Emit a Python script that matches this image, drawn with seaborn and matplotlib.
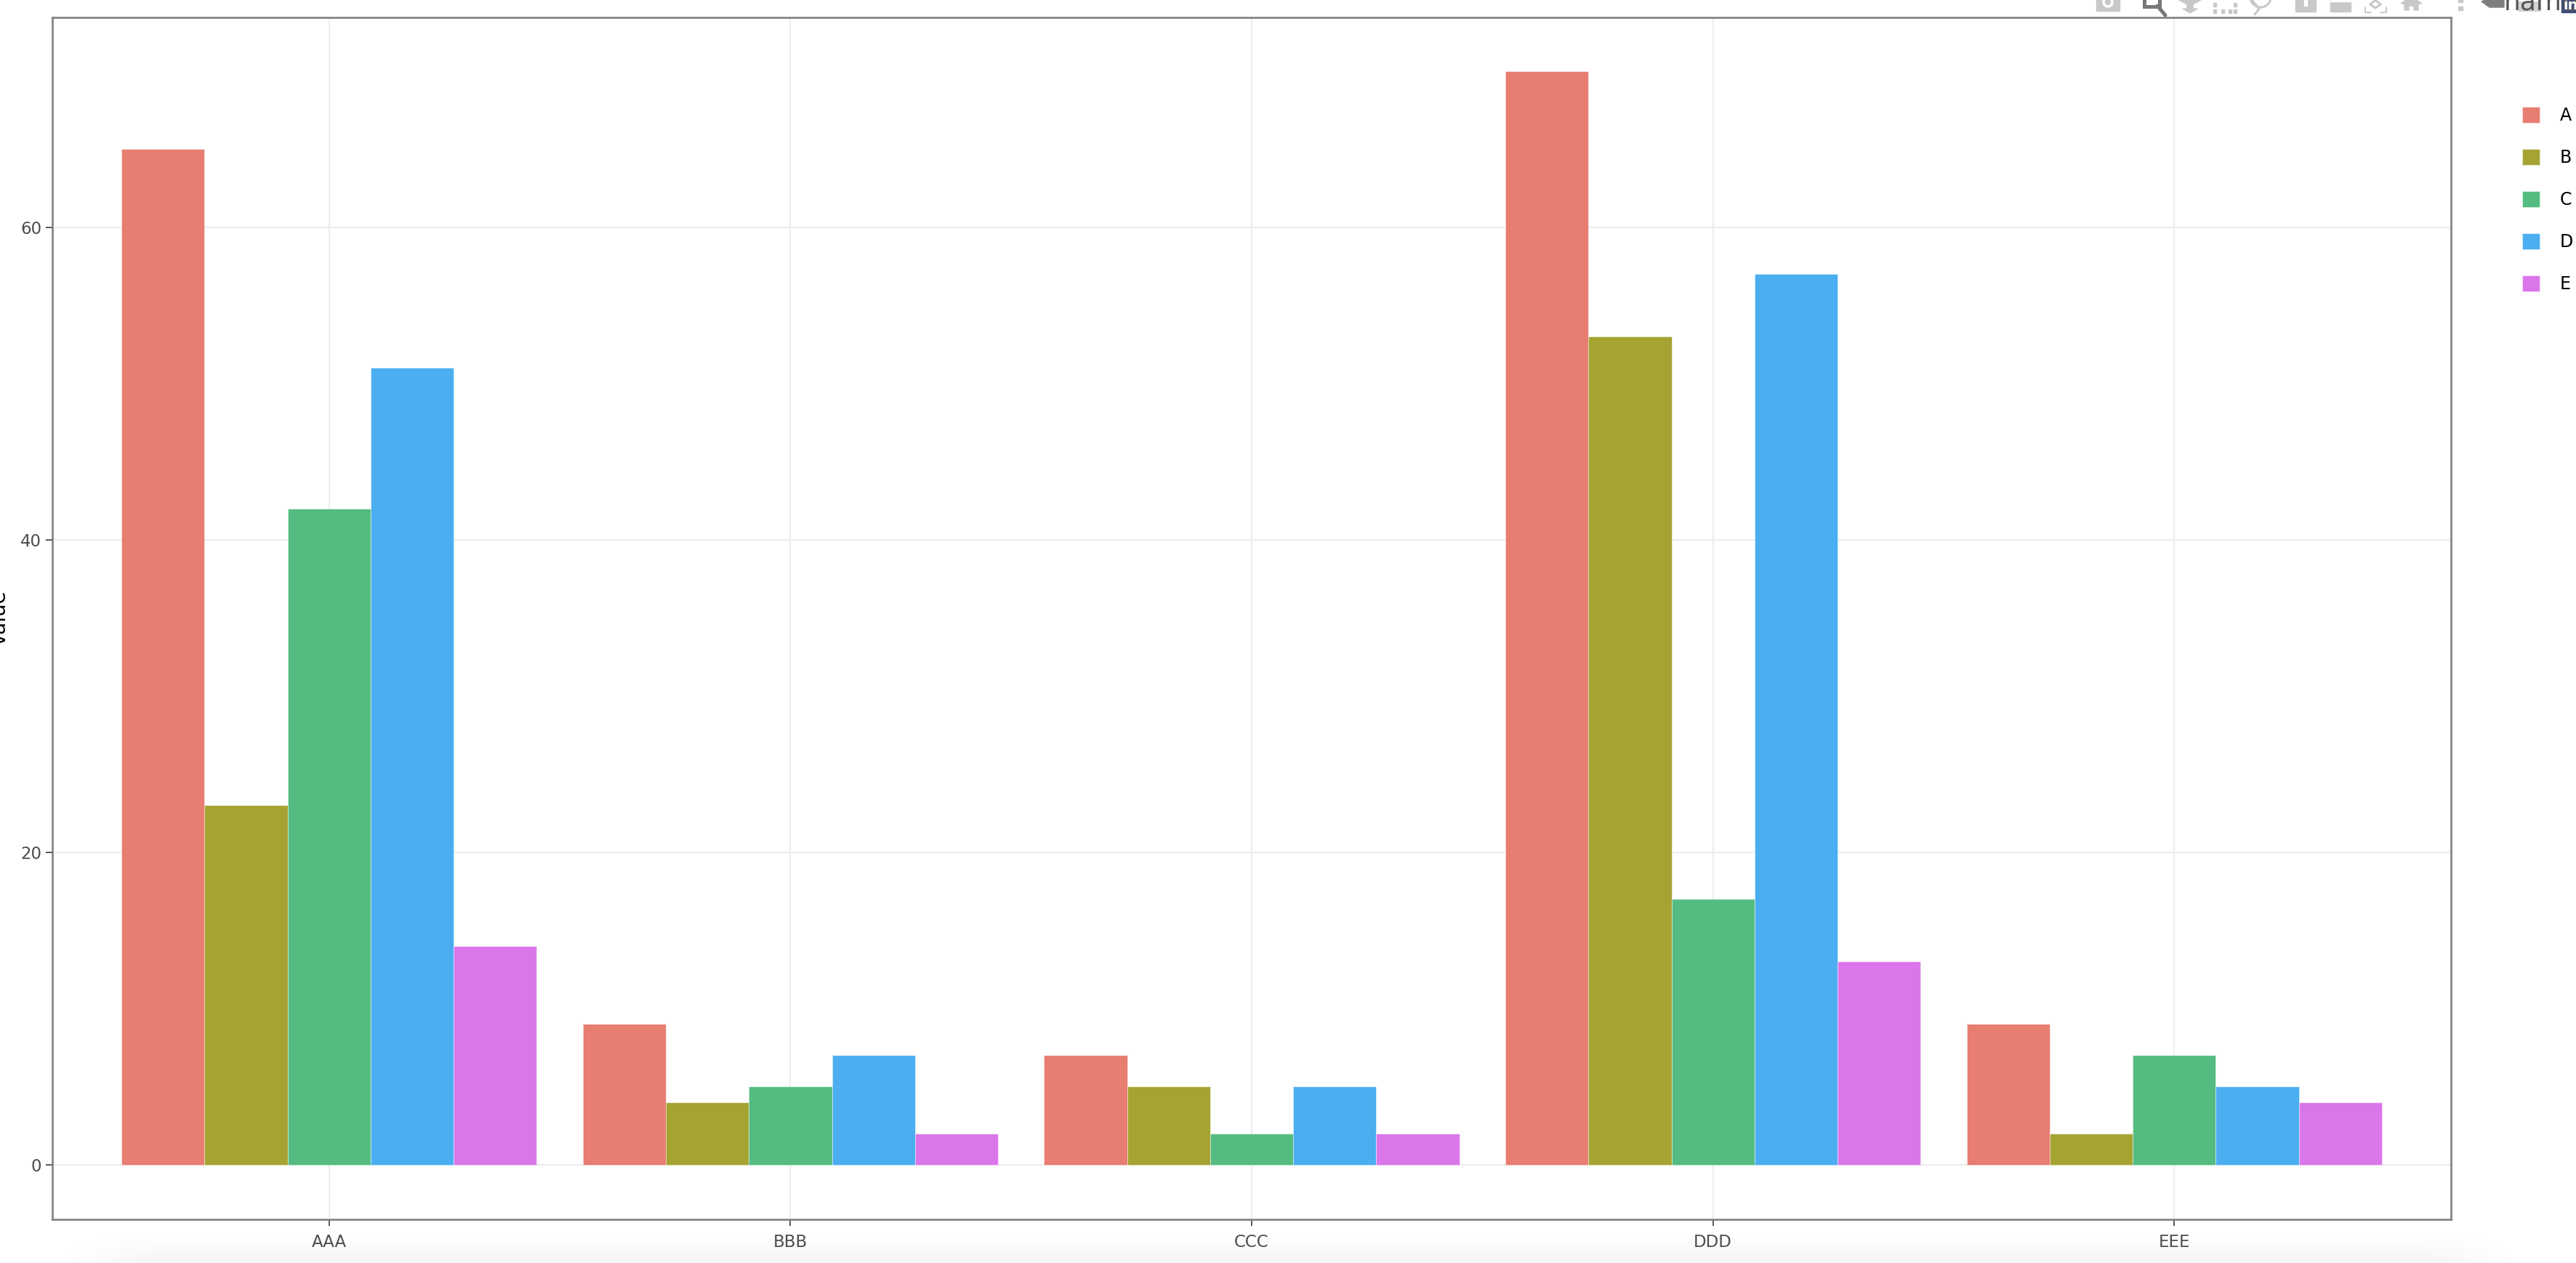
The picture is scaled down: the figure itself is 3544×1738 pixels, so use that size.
import numpy as np
import pandas as pd
import matplotlib
matplotlib.use("Agg")
import matplotlib.pyplot as plt
from matplotlib.patches import Rectangle, Circle, Polygon
from matplotlib.lines import Line2D
import seaborn as sns

categories = ["AAA", "BBB", "CCC", "DDD", "EEE"]
series_names = ["A", "B", "C", "D", "E"]
values_a = [65, 9, 7, 70, 9]
values_b = [23, 4, 5, 53, 2]
values_c = [42, 5, 2, 17, 7]
values_d = [51, 7, 5, 57, 5]
values_e = [14, 2, 2, 13, 4]
series_colors = ["#E87D72", "#A5A433", "#55BC81", "#4BAEF1", "#DA76EA"]
y_ticks = [0, 20, 40, 60]

W, H = 3544, 1738
DPI = 100
px = 72 / DPI  # points per output pixel

frame = pd.DataFrame({
    "group": categories * len(series_names),
    "name": [n for n in series_names for _ in categories],
    "value": values_a + values_b + values_c + values_d + values_e,
})

sns.set_theme(style="white")
plt.rcParams["font.family"] = ["DejaVu Sans"]

fig = plt.figure(figsize=(W / DPI, H / DPI), dpi=DPI, facecolor="white")

# Full-figure layer in pixel coordinates for the page chrome
page = fig.add_axes([0, 0, 1, 1], zorder=0)
page.set_xlim(0, W)
page.set_ylim(H, 0)
page.axis("off")

# Soft shadow along the lower edge of the page
def ramp(t):
    t = np.clip(t, 0, 1)
    return t * t * (3 - 2 * t)

xs = np.arange(W)
ys = np.arange(1680, H)
horizontal = ramp((xs - 60) / 170) * ramp((3490 - xs) / 170)
vertical = ramp((ys - 1685) / 75)
shade = np.zeros((len(ys), W, 4))
shade[..., 3] = np.outer(vertical, horizontal) * 0.055
page.imshow(shade, extent=(0, W, H, 1680), aspect="auto", interpolation="bilinear")
page.set_xlim(0, W)
page.set_ylim(H, 0)

# Plot toolbar, cut off by the top edge of the page
light = "#c8c8c8"
dark = "#777777"
page.add_patch(Rectangle((2884, -4), 32, 19, color=light))
page.add_patch(Circle((2900, 3), 7, color="white"))
page.add_patch(Circle((2900, 3), 3.5, color=light))
page.add_patch(Rectangle((2950, -4), 21, 13, fill=False, ec=dark, lw=5 * px))
page.add_line(Line2D([2968, 2979], [8, 21], color=dark, lw=5 * px))
page.add_patch(Polygon([[2998, 0], [3028, 0], [3017, 6], [3017, 12], [3023, 12], [3013, 18],
                        [3003, 12], [3009, 12], [3009, 6]], color=light))
for dot_x in [3045, 3056, 3066, 3073]:
    page.add_patch(Rectangle((dot_x, 13), 4, 5, color=light))
page.add_patch(Rectangle((3045, 4), 4, 5, color=light))
page.add_patch(Rectangle((3073, 4), 4, 5, color=light))
page.add_patch(Circle((3110, -4), 14, fill=False, ec=light, lw=3 * px))
page.add_line(Line2D([3098, 3108, 3102], [0, 12, 20], color=light, lw=3 * px))
page.add_patch(Rectangle((3158, -4), 28, 20, color=light))
page.add_patch(Rectangle((3170, 0), 4, 8, color="white"))
page.add_patch(Rectangle((3206, -4), 28, 20, color=light))
page.add_patch(Rectangle((3206, -1), 28, 3, color="white"))
page.add_line(Line2D([3254, 3254, 3262], [10, 17, 17], color=light, lw=2 * px))
page.add_line(Line2D([3275, 3283, 3283], [17, 17, 10], color=light, lw=2 * px))
page.add_patch(Polygon([[3261, 6], [3268, 0], [3275, 6], [3268, 11]], fill=False, ec=light, lw=3 * px))
page.add_patch(Polygon([[3303, 5], [3317, -5], [3332, 5], [3327, 5], [3327, 14], [3321, 14], [3321, 8],
                        [3314, 8], [3314, 14], [3308, 14], [3308, 5]], color=light))
page.add_patch(Rectangle((3382, 0), 6, 3, color=light))
page.add_patch(Rectangle((3382, 9), 6, 5, color=light))

# Hover tag over the page corner
page.add_patch(Polygon([[3425, -2], [3445, -2], [3445, 10], [3425, 10], [3414, 2]], color="#7f7f7f"))
page.add_patch(Rectangle((3465, 2), 30, 13, color="#d2d2d2"))
page.add_patch(Rectangle((3524, -2), 20, 19, color="#3f4f75"))
page.text(3445, 13, "name", fontsize=26 * px * 1.39, color="#555555", ha="left", va="baseline")
page.text(3526, 13, "in", fontsize=14, color="white", ha="left", va="baseline", fontweight="bold")
page.set_clip_on(True)

# Main plotting area
left, right, top, bottom = 72, 3372, 24, 1678
ax = fig.add_axes([left / W, 1 - bottom / H, (right - left) / W, (bottom - top) / H],
                  zorder=1, facecolor="white")

sns.barplot(
    data=frame, x="group", y="value", hue="name",
    order=categories, hue_order=series_names,
    palette=series_colors, saturation=1, width=0.9, gap=0,
    edgecolor=(1, 1, 1, 0.45), linewidth=1 * px, ax=ax,
)

ax.set_xlim(-0.6, 4.6)
ax.set_ylim(-3.5, 73.44)
ax.set_yticks(y_ticks)
ax.set_axisbelow(True)
ax.grid(True, axis="both", color="#ebebeb", linewidth=2 * px)
ax.set_xlabel("")
ax.set_ylabel("")
ax.tick_params(axis="x", length=9 * px, width=1.6 * px, color="#333333",
               labelcolor="#4d4d4d", labelsize=16.5, pad=11 * px, bottom=True)
ax.tick_params(axis="y", length=9 * px, width=1.6 * px, color="#333333",
               labelcolor="#4d4d4d", labelsize=16.5, pad=6 * px, left=True)
for spine in ax.spines.values():
    spine.set_color("#7f7f7f")
    spine.set_linewidth(2.6 * px)

fig.text(13 / W, 1 - 850 / H, "value", rotation=90, ha="right", va="center",
         fontsize=20, color="black")

# Legend without a title, down the right margin
handles, labels = ax.get_legend_handles_labels()
for handle in handles:
    handle.set_edgecolor((1, 1, 1, 0.45))
ax.legend(
    handles, labels, loc="upper left",
    bbox_to_anchor=(3470 / W, 1 - 147 / H), bbox_transform=fig.transFigure,
    frameon=False, borderpad=0, borderaxespad=0, fontsize=17,
    handlelength=24 * px / 17, handleheight=24 * px / 17,
    handletextpad=28 * px / 17, labelspacing=34 * px / 17, labelcolor="black",
)

fig.savefig("out.png", dpi=DPI, facecolor="white")
